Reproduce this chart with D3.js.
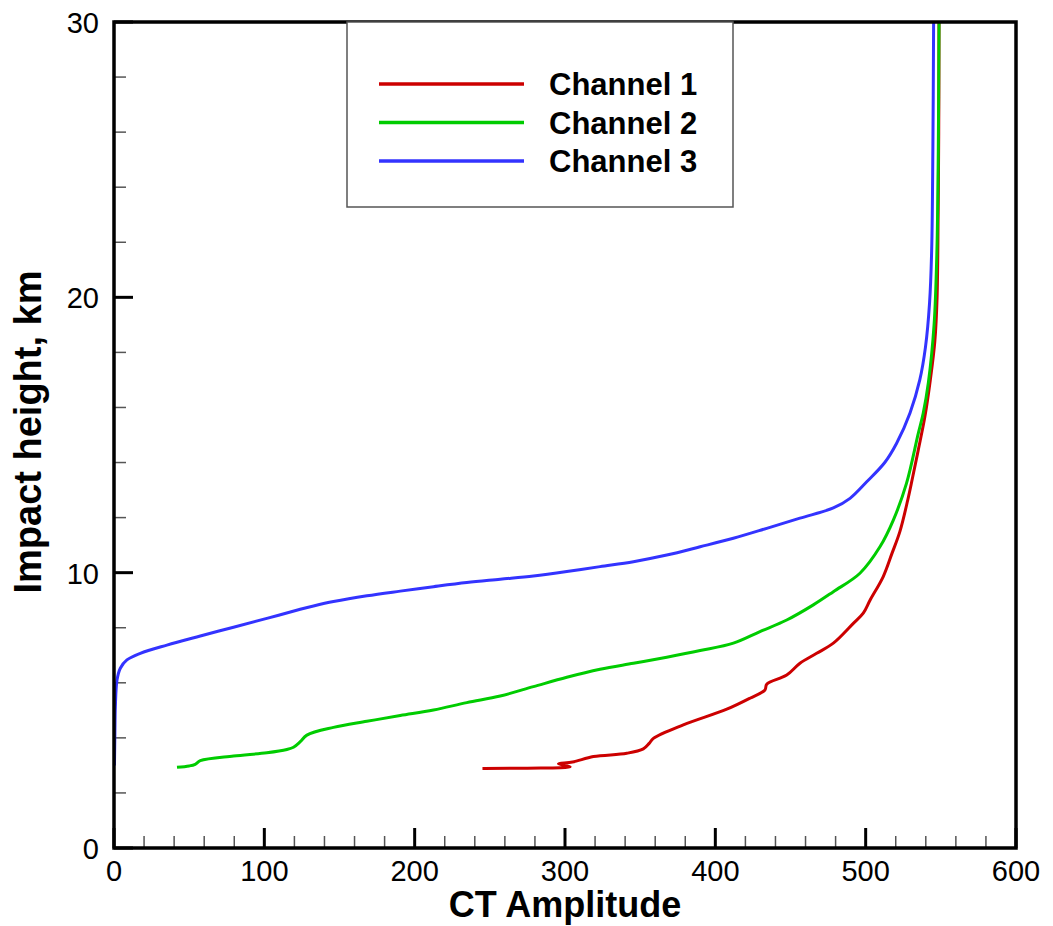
<!doctype html>
<html>
  <head>
    <meta charset="utf8">
    <script src="https://d3js.org/d3.v7.min.js"></script>
    <style type="text/css">
      body { margin: 0; background: #fff; font-family: Arial, 'Liberation Sans', sans-serif; }
    </style>
  </head>
  <body>
    <script type="text/javascript">
      const w = 1053;
      const h = 926;
      const margin = { left: 114, right: 37, top: 22, bottom: 78 };

      const xTicks = [0, 100, 200, 300, 400, 500, 600];
      const yTicks = [0, 10, 20, 30];
      const seriesNames = ['Channel 1', 'Channel 2', 'Channel 3'];
      const seriesColors = ['#cc0000', '#00cc00', '#3333ff'];

      // [amplitude, height km]
      const channel1 = [
        [245.1, 2.89], [275, 2.90], [303.4, 2.95], [295.6, 3.06], [305, 3.12],
        [318.9, 3.32], [341.1, 3.44], [352.1, 3.6], [356, 3.8], [358.8, 3.98],
        [378.7, 4.47], [407.6, 5.04], [423, 5.44], [433, 5.74], [434.2, 5.95],
        [447.5, 6.28], [456.3, 6.71], [467.4, 7.07], [478.5, 7.44], [491.8, 8.16],
        [498.4, 8.53], [502.9, 9.0], [511.7, 9.86], [517.5, 10.7], [522.8, 11.5],
        [528, 12.64], [531, 13.4], [535, 14.46], [539.4, 15.67], [543, 17],
        [546, 18.4], [547.5, 20], [548.2, 23], [548.6, 26], [548.8, 30]
      ];
      const channel2 = [
        [41.9, 2.93], [50, 2.98], [54, 3.04], [57.4, 3.17], [79.5, 3.34],
        [101.7, 3.46], [115, 3.58], [119.4, 3.66], [123.9, 3.86], [128.3, 4.10],
        [146, 4.38], [168.2, 4.60], [190.4, 4.81], [212.5, 5.01], [234.7, 5.28],
        [256.9, 5.52], [279, 5.86], [301.2, 6.20], [323.3, 6.49], [345.5, 6.71],
        [367.7, 6.93], [389.9, 7.17], [412, 7.44], [429.7, 7.86], [447.5, 8.28],
        [465.2, 8.83], [478.5, 9.31], [496.2, 9.98], [509.5, 10.94], [518.4, 11.91],
        [527.2, 13.25], [535, 15.06], [538.3, 15.8], [541.7, 16.9], [545.5, 19.0],
        [547.4, 21.7], [548.3, 25.3], [548.8, 30]
      ];
      const channel3 = [
        [0.3, 3.0], [0.6, 4.2], [0.9, 5.13], [2, 6.10], [4.2, 6.53],
        [8.6, 6.83], [17.5, 7.07], [35.2, 7.37], [57.4, 7.70], [79.5, 8.02],
        [101.7, 8.34], [123.9, 8.67], [132.7, 8.79], [146, 8.95], [168.2, 9.16],
        [190.4, 9.33], [212.5, 9.49], [234.7, 9.64], [256.9, 9.76], [279, 9.88],
        [301.2, 10.04], [323.3, 10.22], [345.5, 10.40], [367.7, 10.64], [389.9, 10.94],
        [412, 11.25], [434.2, 11.61], [456.3, 11.98], [478.5, 12.35], [489.6, 12.7],
        [500.7, 13.3], [512.7, 14.0], [520.6, 14.7], [529.5, 15.8], [536, 17.0],
        [539.8, 18.2], [542.5, 19.8], [543.9, 21.7], [544.7, 25.35], [545.2, 30]
      ];
      const series = [channel1, channel2, channel3];

      const xScale = d3.scaleLinear()
        .domain([0, 600])
        .range([margin.left, w - margin.right]);

      const yScale = d3.scaleLinear()
        .domain([0, 30])
        .range([h - margin.bottom, margin.top]);

      const svg = d3.select('body')
        .append('svg')
        .attr('width', w)
        .attr('height', h);

      const x0 = xScale(0), x1 = xScale(600);
      const y0 = yScale(0), y1 = yScale(30);

      // minor ticks (inside)
      const xMinor = d3.range(0, 601, 20).filter((d) => d % 100 !== 0);
      const yMinor = d3.range(0, 31, 2).filter((d) => d % 10 !== 0);

      svg.selectAll('line.xminor')
        .data(xMinor)
        .enter()
        .append('line')
        .attr('x1', (d) => xScale(d)).attr('x2', (d) => xScale(d))
        .attr('y1', y0).attr('y2', y0 - 12)
        .attr('stroke', '#555').attr('stroke-width', 1.5);

      svg.selectAll('line.yminor')
        .data(yMinor)
        .enter()
        .append('line')
        .attr('y1', (d) => yScale(d)).attr('y2', (d) => yScale(d))
        .attr('x1', x0).attr('x2', x0 + 12)
        .attr('stroke', '#555').attr('stroke-width', 1.5);

      // major ticks
      svg.selectAll('line.xmajor')
        .data(xTicks)
        .enter()
        .append('line')
        .attr('x1', (d) => xScale(d)).attr('x2', (d) => xScale(d))
        .attr('y1', y0).attr('y2', y0 - 20)
        .attr('stroke', '#000').attr('stroke-width', 3);

      svg.selectAll('line.ymajor')
        .data(yTicks)
        .enter()
        .append('line')
        .attr('y1', (d) => yScale(d)).attr('y2', (d) => yScale(d))
        .attr('x1', x0).attr('x2', x0 + 19)
        .attr('stroke', '#000').attr('stroke-width', 3);

      // tick labels
      svg.selectAll('text.xlab')
        .data(xTicks)
        .enter()
        .append('text')
        .attr('x', (d) => xScale(d))
        .attr('y', 881)
        .attr('text-anchor', 'middle')
        .attr('font-size', '29px')
        .attr('fill', '#000')
        .text((d) => d);

      svg.selectAll('text.ylab')
        .data(yTicks)
        .enter()
        .append('text')
        .attr('x', x0 - 15)
        .attr('y', (d) => yScale(d) + 11)
        .attr('text-anchor', 'end')
        .attr('font-size', '29px')
        .attr('fill', '#000')
        .text((d) => d);

      // curves
      const line = d3.line()
        .x((d) => xScale(d[0]))
        .y((d) => yScale(d[1]))
        .curve(d3.curveCatmullRom.alpha(0.5));

      svg.selectAll('path.curve')
        .data(series)
        .enter()
        .append('path')
        .attr('d', line)
        .attr('fill', 'none')
        .attr('stroke', (d, i) => seriesColors[i])
        .attr('stroke-width', 3)
        .attr('stroke-linejoin', 'round');

      // frame
      svg.append('rect')
        .attr('x', x0).attr('y', y1)
        .attr('width', x1 - x0).attr('height', y0 - y1)
        .attr('fill', 'none')
        .attr('stroke', '#000')
        .attr('stroke-width', 3.5);

      // legend
      const legend = svg.append('g');
      legend.append('rect')
        .attr('x', 347).attr('y', 22)
        .attr('width', 386).attr('height', 185)
        .attr('fill', '#fff')
        .attr('stroke', '#555')
        .attr('stroke-width', 1.5);

      const legendY = [84, 122.5, 161];
      seriesNames.forEach((name, i) => {
        legend.append('line')
          .attr('x1', 379).attr('x2', 524)
          .attr('y1', legendY[i]).attr('y2', legendY[i])
          .attr('stroke', seriesColors[i])
          .attr('stroke-width', 3.5);
        legend.append('text')
          .attr('x', 549)
          .attr('y', legendY[i] + 11)
          .attr('font-size', '31px')
          .attr('font-weight', 'bold')
          .attr('fill', '#000')
          .text(name);
      });

      // axis titles
      svg.append('text')
        .attr('x', (x0 + x1) / 2)
        .attr('y', 917)
        .attr('text-anchor', 'middle')
        .attr('font-size', '36px')
        .attr('font-weight', 'bold')
        .text('CT Amplitude');

      svg.append('text')
        .attr('transform', 'translate(41,' + ((y0 + y1) / 2 - 3) + ') rotate(-90)')
        .attr('text-anchor', 'middle')
        .attr('font-size', '38px')
        .attr('font-weight', 'bold')
        .text('Impact height, km');
    </script>
  </body>
</html>
